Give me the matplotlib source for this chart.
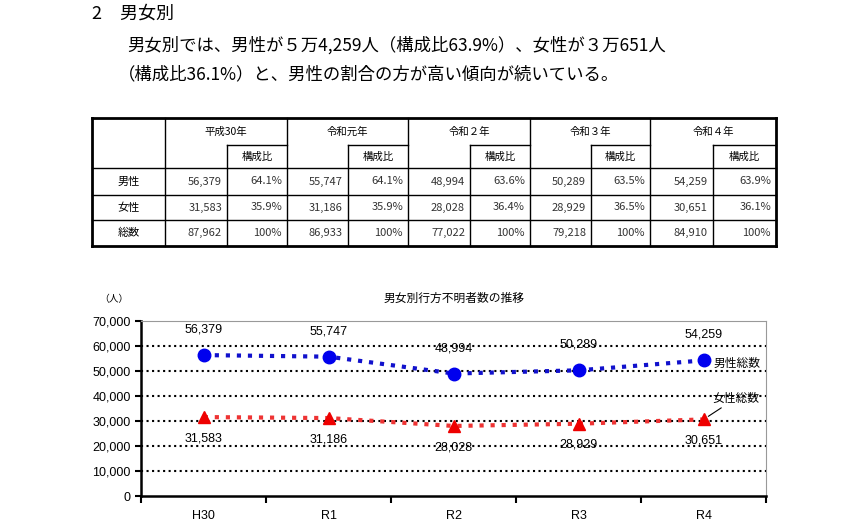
import matplotlib.pyplot as plt

plt.rcParams['font.family'] = ['Noto Sans CJK JP', 'DejaVu Sans']
NUMFONT = ['Liberation Sans', 'Noto Sans CJK JP']

years = ['H30', 'R1', 'R2', 'R3', 'R4']
year_heads = ['平成30年', '令和元年', '令和２年', '令和３年', '令和４年']
male = [56379, 55747, 48994, 50289, 54259]
female = [31583, 31186, 28028, 28929, 30651]
total = [87962, 86933, 77022, 79218, 84910]
male_ratio = ['64.1%', '64.1%', '63.6%', '63.5%', '63.9%']
female_ratio = ['35.9%', '35.9%', '36.4%', '36.5%', '36.1%']
total_ratio = ['100%'] * 5

fig = plt.figure(figsize=(8.56, 5.27), dpi=100)

# page layer in pixel coords for heading and table
pg = fig.add_axes([0, 0, 1, 1])
pg.set_xlim(0, 856)
pg.set_ylim(527, 0)
pg.axis('off')

pg.text(92, 14, '2　男女別', fontsize=13, va='center')
pg.text(127, 45, '男女別では、男性が５万4,259人（構成比63.9%）、女性が３万651人',
        fontsize=12.5, va='center')
pg.text(118, 74, '（構成比36.1%）と、男性の割合の方が高い傾向が続いている。',
        fontsize=12.5, va='center')

# table
tl, tr = 92, 776
ty = [118, 145, 168, 195, 220, 246]
col_x = [165, 287, 408, 530, 650, 776]
sub_x = [227, 348, 470, 591, 713]
lw = 1.0
pg.plot([tl, tr], [ty[0], ty[0]], color='k', lw=2)
pg.plot([tl, tr], [ty[-1], ty[-1]], color='k', lw=2)
pg.plot([tl, tl], [ty[0], ty[-1]], color='k', lw=2)
pg.plot([tr, tr], [ty[0], ty[-1]], color='k', lw=2)
for y in ty[2:5]:
    pg.plot([tl, tr], [y, y], color='k', lw=lw)
for x in col_x[:-1]:
    pg.plot([x, x], [ty[0], ty[-1]], color='k', lw=lw)
for sx, cx in zip(sub_x, col_x[1:]):
    pg.plot([sx, cx], [ty[1], ty[1]], color='k', lw=lw)
    pg.plot([sx, sx], [ty[1], ty[-1]], color='k', lw=lw)
for i, h in enumerate(year_heads):
    pg.text((col_x[i] + col_x[i + 1]) / 2, (ty[0] + ty[1]) / 2, h,
            ha='center', va='center', fontsize=7.5)
    pg.text((sub_x[i] + col_x[i + 1]) / 2, (ty[1] + ty[2]) / 2, '構成比',
            ha='center', va='center', fontsize=7.5)
rows = [('男性', male, male_ratio), ('女性', female, female_ratio),
        ('総数', total, total_ratio)]
for r, (name, vals, ratios) in enumerate(rows):
    yc = (ty[r + 2] + ty[r + 3]) / 2
    pg.text((tl + col_x[0]) / 2, yc, name, ha='center', va='center', fontsize=8)
    for i in range(5):
        pg.text(sub_x[i] - 5, yc, f'{vals[i]:,}', ha='right', va='center',
                fontsize=8, color='#333333')
        pg.text(col_x[i + 1] - 5, yc, ratios[i], ha='right', va='center',
                fontsize=8, color='#333333')

# chart
ax = fig.add_axes([0.165, 0.0588, 0.730, 0.332])
x = list(range(len(years)))
ax.plot(x, male, color='#1111cc', lw=3, ls=':', marker='o', ms=9,
        markerfacecolor='#0000ee', markeredgecolor='#0000ee')
ax.plot(x, female, color='#ee3333', lw=3, ls=':', marker='^', ms=9,
        markerfacecolor='#ee0000', markeredgecolor='#ee0000')
for i in x:
    ax.annotate(f'{male[i]:,}', (i, male[i]), xytext=(0, 14),
                textcoords='offset points', ha='center', va='bottom',
                fontsize=9, family=NUMFONT)
    ax.annotate(f'{female[i]:,}', (i, female[i]), xytext=(0, -11),
                textcoords='offset points', ha='center', va='top',
                fontsize=9, family=NUMFONT)
ax.annotate('男性総数', (4, male[4]), xytext=(7, -2), textcoords='offset points',
            ha='left', va='center', fontsize=8.5)
ax.annotate('女性総数', (4, female[4]), xytext=(6, 15), textcoords='offset points',
            ha='left', va='center', fontsize=8.5,
            arrowprops=dict(arrowstyle='-', lw=0.8, color='k',
                            shrinkA=0, shrinkB=4))

ax.set_xlim(-0.5, 4.5)
ax.set_ylim(0, 70000)
ax.set_yticks(range(0, 70001, 10000))
ax.set_yticklabels([f'{v:,}' for v in range(0, 70001, 10000)], fontsize=9,
                   family=NUMFONT)
ax.set_xticks(x)
ax.set_xticklabels(years, fontsize=9, family=NUMFONT)
ax.tick_params(axis='x', length=0, pad=10)
ax.set_xticks([i - 0.5 for i in range(6)], minor=True)
ax.tick_params(axis='x', which='minor', length=5, width=1.5, direction='out')
ax.tick_params(axis='y', length=4, width=1.5)
for v in range(10000, 70000, 10000):
    ax.axhline(v, color='k', lw=1.5, ls=':', zorder=0)
ax.spines['left'].set_linewidth(1.8)
ax.spines['bottom'].set_linewidth(1.8)
for s in ('top', 'right'):
    ax.spines[s].set_color('#999999')
    ax.spines[s].set_linewidth(0.8)

fig.text(0.116, 0.433, '（人）', fontsize=7, va='center')
fig.text(0.53, 0.433, '男女別行方不明者数の推移', fontsize=8.5, ha='center', va='center')

fig.savefig('out.png', dpi=100)
